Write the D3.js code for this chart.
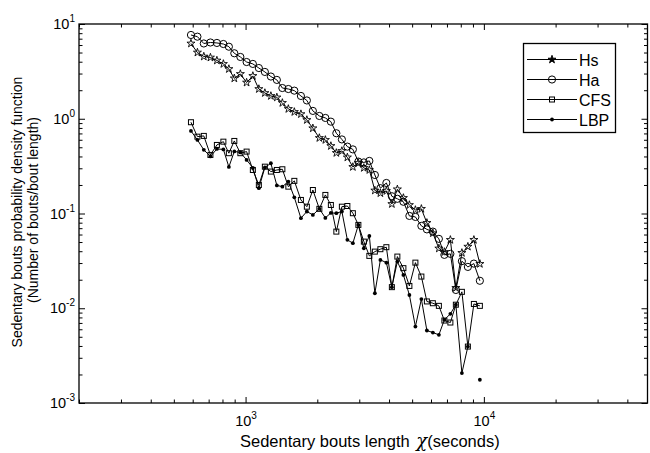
<!DOCTYPE html>
<html>
<head>
<meta charset="utf-8">
<script src="https://cdn.jsdelivr.net/npm/d3@7"></script>
<style>
  body { margin: 0; background: #fff; }
  svg { display: block; font-family: "Liberation Sans", Arial, sans-serif; }
</style>
</head>
<body>
<svg id="chart" width="650" height="453"></svg>
<script>
// bout length bins (seconds)
var lengths = [590, 628, 668, 712, 758, 807, 851, 897, 951, 1010,
  1073, 1137, 1205, 1277, 1353, 1427, 1512, 1602, 1707, 1808,
  1916, 2040, 2162, 2280, 2404, 2536, 2674, 2820, 2974, 3136,
  3307, 3488, 3679, 3898, 4111, 4335, 4595, 4869, 5160, 5467,
  5766, 6109, 6474, 6828, 7235, 7629, 8086, 8568, 9080, 9620];

var hs = [6.23, 5.00, 4.54, 4.43, 4.12, 3.79, 3.35, 2.67, 2.97, 2.41,
  2.83, 2.06, 1.87, 1.74, 1.68, 1.47, 1.27, 1.18, 1.12, 0.971,
  0.794, 0.627, 0.598, 0.516, 0.436, 0.457, 0.391, 0.310, 0.342, 0.303,
  0.288, 0.175, 0.164, 0.173, 0.126, 0.180, 0.146, 0.123, 0.109, 0.112,
  0.0796, 0.0620, 0.0428, 0.0393, 0.0527, 0.0164, 0.0384, 0.0447, 0.0527, 0.0294];

var ha = [7.66, 7.35, 6.23, 6.38, 6.31, 6.15, 5.76, 4.91, 4.49, 3.97,
  3.79, 3.43, 3.12, 2.79, 2.57, 2.11, 2.06, 1.98, 1.74, 1.56,
  1.21, 1.07, 1.02, 0.932, 0.703, 0.605, 0.508, 0.475, 0.353, 0.346,
  0.359, 0.255, 0.185, 0.210, 0.152, 0.143, 0.133, 0.0943, 0.092, 0.0740,
  0.0680, 0.0644, 0.0540, 0.0366, 0.0375, 0.0156, 0.0314, 0.0273, 0.0296, 0.0195];

var cfs = [0.919, 0.647, 0.659, 0.415, 0.529, 0.573, 0.433, 0.583, 0.433, 0.450,
  0.288, 0.200, 0.312, 0.277, 0.288, 0.293, 0.192, 0.221, 0.139, 0.118,
  0.177, 0.112, 0.157, 0.123, 0.0644, 0.118, 0.120, 0.1007, 0.0758, 0.0505,
  0.0357, 0.0396, 0.0420, 0.0441, 0.0167, 0.0351, 0.0265, 0.0172, 0.0303, 0.0216,
  0.0118, 0.0113, 0.0106, 0.00742, 0.00707, 0.0109, 0.0149, 0.00394, 0.0111, 0.0106];

// null = empty bin (no point on a log axis)
var lbp = [0.744, 0.598, 0.47, 0.40, 0.48, 0.475, 0.310, 0.452, 0.441, 0.368,
  0.303, 0.185, 0.306, 0.339, 0.198, 0.192, 0.217, 0.148, 0.0892, 0.105,
  0.0966, 0.112, 0.0899, 0.1015, 0.1007, 0.105, 0.0527, 0.0486, 0.0758, 0.0430,
  0.0580, 0.0144, 0.0324, 0.0303, 0.0167, 0.0311, 0.0225, 0.0138, 0.00641, 0.0125,
  0.00582, 0.00554, 0.00524, 0.00755, 0.00873, 0.0109, 0.00207, 0.00394, null, 0.00176];

var seriesNames = ['Hs', 'Ha', 'CFS', 'LBP'];
var xTickExps = [3, 4];
var yTickExps = [-3, -2, -1, 0, 1];

(function () {
  var svg = d3.select('#chart');
  var left = 79, right = 647.5, top = 24, bottom = 403;

  var x = d3.scaleLog().domain([200, 48600]).range([left, right]);
  var y = d3.scaleLog().domain([1e-3, 10]).range([bottom, top]);

  // ticks, matlab style: inward on all four sides
  var xMajor = xTickExps.map(function (e) { return Math.pow(10, e); });
  var yMajor = yTickExps.map(function (e) { return Math.pow(10, e); });
  var xMinor = x.ticks().filter(function (t) { return xMajor.indexOf(t) < 0 && t < 48600; });
  var yMinor = y.ticks().filter(function (t) { return yMajor.indexOf(t) < 0; });

  function tickAxis(gen, pos, vals, size) {
    var g = svg.append('g')
      .attr('transform', pos)
      .call(gen.tickValues(vals).tickSize(size).tickFormat(''));
    g.select('.domain').remove();
    g.selectAll('line').attr('stroke', '#000').attr('stroke-width', 1);
  }
  [[xMajor, -6], [xMinor, -3.5]].forEach(function (p) {
    tickAxis(d3.axisBottom(x), 'translate(0,' + bottom + ')', p[0], p[1]);
    tickAxis(d3.axisTop(x), 'translate(0,' + top + ')', p[0], p[1]);
  });
  [[yMajor, -6], [yMinor, -3.5]].forEach(function (p) {
    tickAxis(d3.axisLeft(y), 'translate(' + left + ',0)', p[0], p[1]);
    tickAxis(d3.axisRight(y), 'translate(' + right + ',0)', p[0], p[1]);
  });

  svg.append('rect')
    .attr('x', left).attr('y', top)
    .attr('width', right - left).attr('height', bottom - top)
    .attr('fill', 'none').attr('stroke', '#000').attr('stroke-width', 1.3);

  // tick labels with superscript exponents
  function powLabel(sel, e) {
    sel.append('tspan').text('10');
    sel.append('tspan').attr('dy', -7).attr('font-size', 10).text(e);
  }
  xTickExps.forEach(function (e) {
    svg.append('text')
      .attr('x', x(Math.pow(10, e)) + 0.5).attr('y', bottom + 23)
      .attr('text-anchor', 'middle').attr('font-size', 14.5)
      .call(powLabel, e);
  });
  yTickExps.forEach(function (e) {
    svg.append('text')
      .attr('x', 75).attr('y', y(Math.pow(10, e)) + 5)
      .attr('text-anchor', 'end').attr('font-size', 14.5)
      .call(powLabel, e);
  });

  // axis titles
  var xt = svg.append('text')
    .attr('x', 240).attr('y', 447)
    .attr('font-size', 16.5);
  xt.append('tspan').text('Sedentary bouts length ');
  xt.append('tspan').attr('dx', 2).attr('font-family', '"DejaVu Serif", serif').attr('font-style', 'italic')
    .attr('font-size', 18).text('χ');
  xt.append('tspan').text('(seconds)');

  svg.append('text')
    .attr('transform', 'translate(22,212) rotate(-90)')
    .attr('text-anchor', 'middle').attr('font-size', 14)
    .text('Sedentary bouts probability density function');
  svg.append('text')
    .attr('transform', 'translate(38,210) rotate(-90)')
    .attr('text-anchor', 'middle').attr('font-size', 14)
    .text('(Number of bouts/bout length)');

  // markers
  var star = d3.symbol().type(d3.symbolStar).size(20);
  function drawMarker(g, name, filled) {
    if (name === 'Hs') {
      g.append('path').attr('d', star())
        .attr('fill', filled ? '#000' : 'none').attr('stroke', '#000').attr('stroke-width', 0.9);
    } else if (name === 'Ha') {
      g.append('circle').attr('r', 3.6).attr('fill', 'none').attr('stroke', '#000').attr('stroke-width', 1);
    } else if (name === 'CFS') {
      g.append('rect').attr('x', -2.5).attr('y', -2.5).attr('width', 5).attr('height', 5)
        .attr('fill', 'none').attr('stroke', '#000').attr('stroke-width', 1);
    } else {
      g.append('circle').attr('r', 1.9).attr('fill', '#000');
    }
  }

  var allSeries = [hs, ha, cfs, lbp];
  var line = d3.line()
    .defined(function (d) { return d[1] != null; })
    .x(function (d) { return x(d[0]); })
    .y(function (d) { return y(d[1]); });

  allSeries.forEach(function (vals, k) {
    var pts = lengths.map(function (l, i) { return [l, vals[i]]; });
    svg.append('path')
      .attr('d', line(pts))
      .attr('fill', 'none').attr('stroke', '#000').attr('stroke-width', 1);
    pts.filter(function (d) { return d[1] != null; }).forEach(function (d) {
      var g = svg.append('g').attr('transform', 'translate(' + x(d[0]) + ',' + y(d[1]) + ')');
      drawMarker(g, seriesNames[k], false);
    });
  });

  // legend
  var lg = svg.append('g');
  lg.append('rect')
    .attr('x', 523.5).attr('y', 43.5).attr('width', 92).attr('height', 89)
    .attr('fill', '#fff').attr('stroke', '#000').attr('stroke-width', 1.3);
  seriesNames.forEach(function (name, i) {
    var ly = 59.5 + i * 20;
    lg.append('line')
      .attr('x1', 527).attr('x2', 577).attr('y1', ly).attr('y2', ly)
      .attr('stroke', '#000').attr('stroke-width', 1);
    drawMarker(lg.append('g').attr('transform', 'translate(552,' + ly + ')'), name, true);
    lg.append('text')
      .attr('x', 579).attr('y', ly + 6)
      .attr('font-size', 16)
      .text(name);
  });
})();
</script>
</body>
</html>
